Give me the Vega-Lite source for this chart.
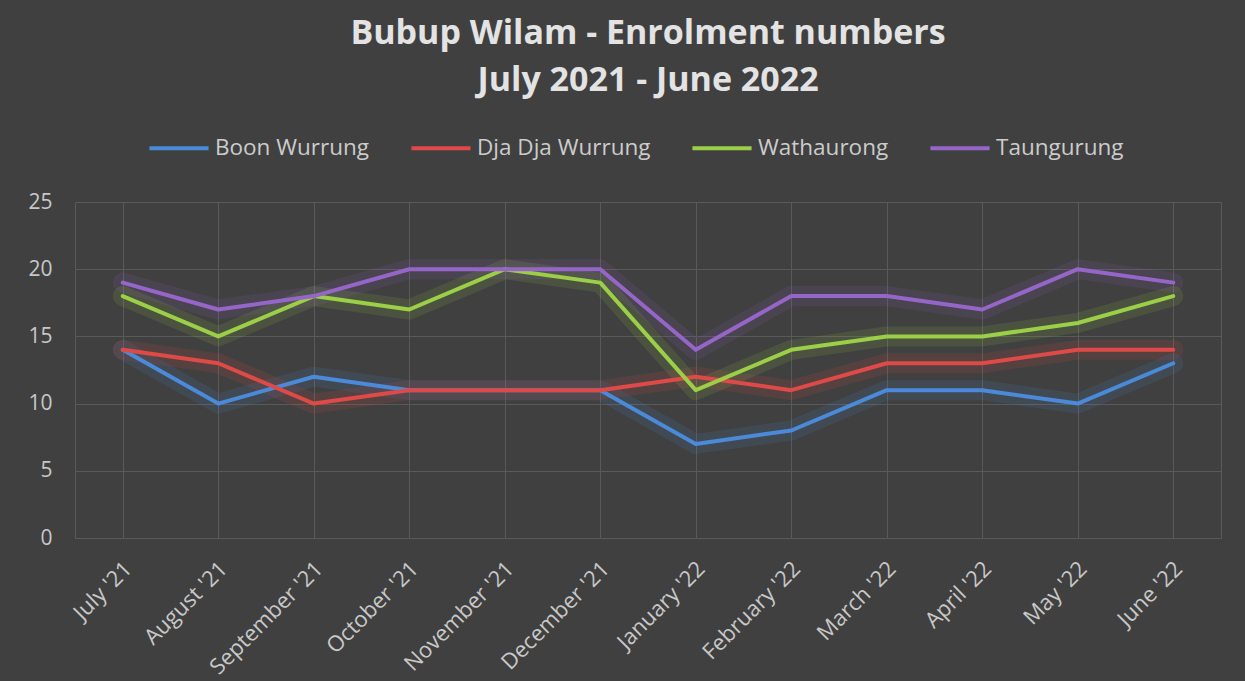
{
  "$schema": "https://vega.github.io/schema/vega-lite/v6.json",
  "autosize": "none",
  "width": 1146,
  "height": 336,
  "padding": {"left": 75, "top": 202, "right": 24, "bottom": 143},
  "background": "#404040",
  "title": {
    "text": ["Bubup Wilam - Enrolment numbers", "July 2021 - June 2022"],
    "font": "Open Sans",
    "fontSize": 34,
    "fontWeight": "bold",
    "color": "#e3e3e3",
    "lineHeight": 47,
    "anchor": "middle",
    "offset": 18
  },
  "config": {
    "view": {"stroke": "#595959", "strokeWidth": 1},
    "font": "Open Sans"
  },
  "data": {
    "values": [
      {"month": "July '21", "series": "Boon Wurrung", "value": 14},
      {"month": "August '21", "series": "Boon Wurrung", "value": 10},
      {"month": "September '21", "series": "Boon Wurrung", "value": 12},
      {"month": "October '21", "series": "Boon Wurrung", "value": 11},
      {"month": "November '21", "series": "Boon Wurrung", "value": 11},
      {"month": "December '21", "series": "Boon Wurrung", "value": 11},
      {"month": "January '22", "series": "Boon Wurrung", "value": 7},
      {"month": "February '22", "series": "Boon Wurrung", "value": 8},
      {"month": "March '22", "series": "Boon Wurrung", "value": 11},
      {"month": "April '22", "series": "Boon Wurrung", "value": 11},
      {"month": "May '22", "series": "Boon Wurrung", "value": 10},
      {"month": "June '22", "series": "Boon Wurrung", "value": 13},
      {"month": "July '21", "series": "Dja Dja Wurrung", "value": 14},
      {"month": "August '21", "series": "Dja Dja Wurrung", "value": 13},
      {"month": "September '21", "series": "Dja Dja Wurrung", "value": 10},
      {"month": "October '21", "series": "Dja Dja Wurrung", "value": 11},
      {"month": "November '21", "series": "Dja Dja Wurrung", "value": 11},
      {"month": "December '21", "series": "Dja Dja Wurrung", "value": 11},
      {"month": "January '22", "series": "Dja Dja Wurrung", "value": 12},
      {"month": "February '22", "series": "Dja Dja Wurrung", "value": 11},
      {"month": "March '22", "series": "Dja Dja Wurrung", "value": 13},
      {"month": "April '22", "series": "Dja Dja Wurrung", "value": 13},
      {"month": "May '22", "series": "Dja Dja Wurrung", "value": 14},
      {"month": "June '22", "series": "Dja Dja Wurrung", "value": 14},
      {"month": "July '21", "series": "Wathaurong", "value": 18},
      {"month": "August '21", "series": "Wathaurong", "value": 15},
      {"month": "September '21", "series": "Wathaurong", "value": 18},
      {"month": "October '21", "series": "Wathaurong", "value": 17},
      {"month": "November '21", "series": "Wathaurong", "value": 20},
      {"month": "December '21", "series": "Wathaurong", "value": 19},
      {"month": "January '22", "series": "Wathaurong", "value": 11},
      {"month": "February '22", "series": "Wathaurong", "value": 14},
      {"month": "March '22", "series": "Wathaurong", "value": 15},
      {"month": "April '22", "series": "Wathaurong", "value": 15},
      {"month": "May '22", "series": "Wathaurong", "value": 16},
      {"month": "June '22", "series": "Wathaurong", "value": 18},
      {"month": "July '21", "series": "Taungurung", "value": 19},
      {"month": "August '21", "series": "Taungurung", "value": 17},
      {"month": "September '21", "series": "Taungurung", "value": 18},
      {"month": "October '21", "series": "Taungurung", "value": 20},
      {"month": "November '21", "series": "Taungurung", "value": 20},
      {"month": "December '21", "series": "Taungurung", "value": 20},
      {"month": "January '22", "series": "Taungurung", "value": 14},
      {"month": "February '22", "series": "Taungurung", "value": 18},
      {"month": "March '22", "series": "Taungurung", "value": 18},
      {"month": "April '22", "series": "Taungurung", "value": 17},
      {"month": "May '22", "series": "Taungurung", "value": 20},
      {"month": "June '22", "series": "Taungurung", "value": 19}
    ]
  },
  "encoding": {
    "x": {
      "field": "month",
      "type": "nominal",
      "sort": null,
      "scale": {"paddingInner": 0, "paddingOuter": 0},
      "axis": {
        "title": null,
        "labelAngle": -45,
        "labelAlign": "right",
        "labelBaseline": "middle",
        "labelFont": "Open Sans",
        "labelFontSize": 22,
        "labelColor": "#c8c8c8",
        "labelPadding": 27,
        "labelOffset": 5,
        "labelLimit": 300,
        "ticks": false,
        "domain": false,
        "grid": true,
        "bandPosition": 0,
        "gridColor": "#595959",
        "gridWidth": 1
      }
    },
    "y": {
      "field": "value",
      "type": "quantitative",
      "scale": {"domain": [0, 25], "nice": false},
      "axis": {
        "title": null,
        "values": [0, 5, 10, 15, 20, 25],
        "labelFont": "Open Sans",
        "labelFontSize": 21,
        "labelColor": "#c8c8c8",
        "labelPadding": 23,
        "ticks": false,
        "domain": false,
        "grid": true,
        "gridColor": "#595959",
        "gridWidth": 1
      }
    },
    "color": {
      "field": "series",
      "type": "nominal",
      "sort": ["Boon Wurrung", "Dja Dja Wurrung", "Wathaurong", "Taungurung"],
      "scale": {
        "domain": ["Boon Wurrung", "Dja Dja Wurrung", "Wathaurong", "Taungurung"],
        "range": ["#4a8ad8", "#de4a47", "#9ccf48", "#9566c8"]
      },
      "legend": {
        "title": null,
        "orient": "none",
        "direction": "horizontal",
        "legendX": 72,
        "legendY": -86,
        "symbolType": "stroke",
        "symbolStrokeWidth": 4,
        "symbolSize": 3500,
        "symbolOpacity": 1,
        "labelFont": "Open Sans",
        "labelFontSize": 22.5,
        "labelColor": "#cccccc",
        "labelOffset": 4,
        "labelLimit": 400,
        "columnPadding": 33
      }
    }
  },
  "layer": [
    {
      "mark": {"type": "line", "strokeWidth": 20, "opacity": 0.13, "strokeJoin": "round", "strokeCap": "round"}
    },
    {
      "mark": {"type": "line", "strokeWidth": 4, "strokeJoin": "round", "strokeCap": "round"}
    }
  ]
}
